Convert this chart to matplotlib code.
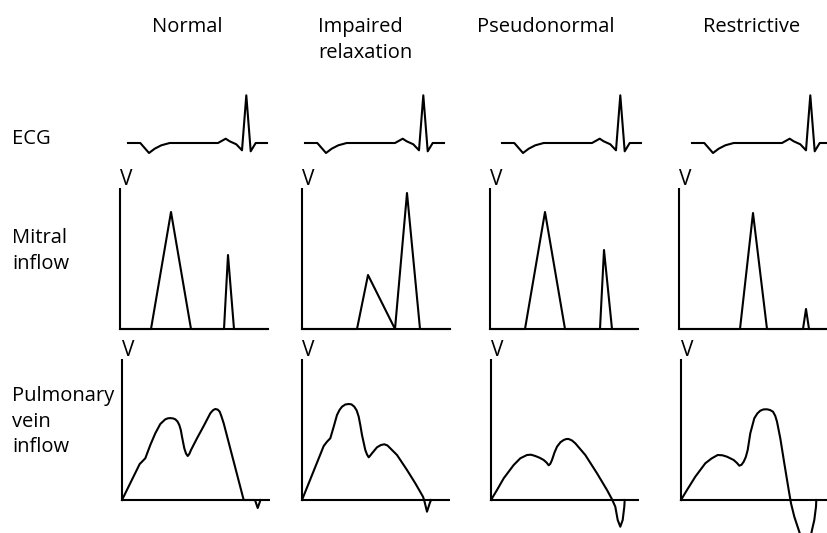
import matplotlib
matplotlib.use("Agg")
import matplotlib.pyplot as plt

plt.rcParams['font.family'] = ['Open Sans', 'DejaVu Sans']

W, H = 828, 533
columns = ["Normal", "Impaired\nrelaxation", "Pseudonormal", "Restrictive"]
rows = ["ECG", "Mitral\ninflow", "Pulmonary\nvein\ninflow"]

# ECG trace (time, amplitude) in arbitrary units
ecg_t = [0, 12.3, 21, 26.7, 33.3, 41.7, 90, 97.7, 101.7, 108.3, 114, 118.3, 122.7, 127.7, 139]
ecg_v = [0, 0, -10, -5.7, -2.3, 0, 0, 4.3, 1.7, -1.3, -7.3, 47.7, -8.3, 0, 0]

# Mitral inflow (time, velocity) per column
mitral_t = [
    [0, 31, 51, 71, 104, 108, 114, 148],
    [0, 55, 66, 93, 105, 118, 148],
    [0, 35, 55, 75, 110, 114, 122, 148],
    [0, 61, 74, 88, 124, 127, 130, 148],
]
mitral_v = [
    [0, 0, 117, 0, 0, 74, 0, 0],
    [0, 0, 54, 0, 136, 0, 0],
    [0, 0, 117, 0, 0, 79, 0, 0],
    [0, 0, 116, 0, 0, 20, 0, 0],
]

# Pulmonary vein inflow (time, velocity) per column
pulm_t = [
    [0, 17.7, 20, 23.3, 28.3, 33.3, 38.3, 43.3, 46, 48.3, 51, 53.3, 55.5, 57.3, 58.8, 60, 62.3,
     64, 65.7, 67.3, 69, 75, 81.7, 88.3, 91, 93.3, 95.7, 97.7, 99.5, 101.7, 121.7, 133, 135.7, 138.5],
    [0, 21.7, 25, 28.3, 31.7, 35, 37.5, 40, 43.3, 46.7, 49.5, 52.3, 54.7, 56.7, 58.3, 60, 63.3,
     65, 66.7, 68.3, 70, 75, 79, 82.3, 85.5, 88.3, 95, 105, 113.3, 121, 122.3, 125, 127.7, 129],
    [0, 6, 12.7, 22.7, 29.3, 36, 40, 44.3, 48.5, 52.7, 55.5, 57.7, 59.3, 61, 63.5, 66, 69.5,
     72.7, 75.3, 77.7, 81, 84.3, 94.3, 106, 116, 121, 124.3, 126.7, 129.3, 131.7, 133.3, 133.7],
    [0, 6, 14.3, 24.3, 30.5, 36.7, 41.5, 46, 52.7, 56, 58.3, 60.5, 62.7, 64.8, 66.7, 69.3, 73.3,
     76.3, 79.3, 82.5, 86, 89, 92, 94.3, 96, 99.3, 103.3, 107.7, 110, 113.3, 117.7, 121, 125,
     129, 131, 133.3, 135, 135.3],
]
pulm_v = [
    [0, 36, 38.3, 41.7, 55, 66.7, 76, 80.7, 81.7, 81.9, 81.6, 80.7, 78.5, 75, 70, 63.3, 51.7,
     46.5, 44, 46, 50, 61.7, 74, 86.7, 89.8, 91, 90.4, 88.3, 83.5, 76.7, 0, 0, -8, 0],
    [0, 54, 58.3, 61.7, 73.3, 85, 90, 93.3, 95.5, 96, 95.6, 93.3, 89.5, 83.3, 75, 65, 50,
     45.5, 42.7, 44.5, 46.7, 52.7, 55, 55.7, 54.5, 51.7, 45, 30, 16.7, 3.3, -0.7, -11.7, -3.3, 0],
    [0, 10, 21.7, 35, 41.7, 45, 45.3, 44, 42.3, 40, 37.5, 34.7, 36.2, 40, 47.5, 53.3, 57.8,
     60, 61, 61, 59.5, 56.7, 45, 26.7, 10, 0.7, -6.7, -20, -26.7, -20, -6.7, 0],
    [0, 10, 23.3, 36.7, 41.5, 45, 44.7, 43.3, 40, 37, 34.3, 35.2, 38.3, 43, 50, 66.7, 81.7,
     86.5, 89.3, 90.6, 90.7, 90, 88.3, 84, 78.3, 61.7, 36.7, 10, -3.3, -16.7, -30, -40, -45,
     -40, -30, -20, -6.7, 0],
]

# ---------------- layout (pixels) ----------------
ecg_x0 = [128, 305, 502, 692]
ecg_base = 143
mit_x0 = [120, 302, 490, 679]
mit_base = 329
pul_x0 = [122, 302, 491, 681]
pul_base = 500
panel_w = 148
panel_h = 141
LW = 1.5
FS = 14.5

fig = plt.figure(figsize=(W / 100, H / 100), dpi=100)
fig.patch.set_facecolor('white')


def px_axes(x0, base, w, up, down):
    ax = fig.add_axes([x0 / W, (H - (base + down)) / H, w / W, (up + down) / H])
    ax.set_xlim(0, w)
    ax.set_ylim(-down, up)
    ax.axis('off')
    return ax


def axis_frame(ax, w, h):
    ax.plot([0, 0, w], [h, 0, 0], color='black', lw=LW, solid_joinstyle='miter',
            solid_capstyle='butt', clip_on=False)
    ax.text(6, h + 3, "V", ha='center', va='baseline', fontsize=15)


for i in range(4):
    # ECG
    ax = px_axes(ecg_x0[i], ecg_base, 140, 55, 20)
    ax.plot(ecg_t, ecg_v, color='black', lw=LW, clip_on=False)

    # Mitral
    ax = px_axes(mit_x0[i], mit_base, panel_w, panel_h + 20, 5)
    axis_frame(ax, panel_w, panel_h)
    ax.plot(mitral_t[i], mitral_v[i], color='black', lw=LW, clip_on=False)

    # Pulmonary
    w = panel_w if i < 3 else 146
    ax = px_axes(pul_x0[i], pul_base, w, panel_h + 20, 50)
    axis_frame(ax, w, panel_h)
    ax.plot(pulm_t[i], pulm_v[i], color='black', lw=LW, clip_on=False)

# Column titles
title_pos = [(187, 'center'), (318, 'left'), (477, 'left'), (703, 'left')]
for txt, (x, ha) in zip(columns, title_pos):
    fig.text(x / W, 1 - 17 / H, txt, ha=ha, va='top', fontsize=FS, linespacing=1.42)

# Row labels
row_y = [129, 228, 386]
for txt, y in zip(rows, row_y):
    fig.text(12 / W, 1 - y / H, txt, ha='left', va='top', fontsize=FS, linespacing=1.38)

fig.savefig("out.png", dpi=100, facecolor='white')
